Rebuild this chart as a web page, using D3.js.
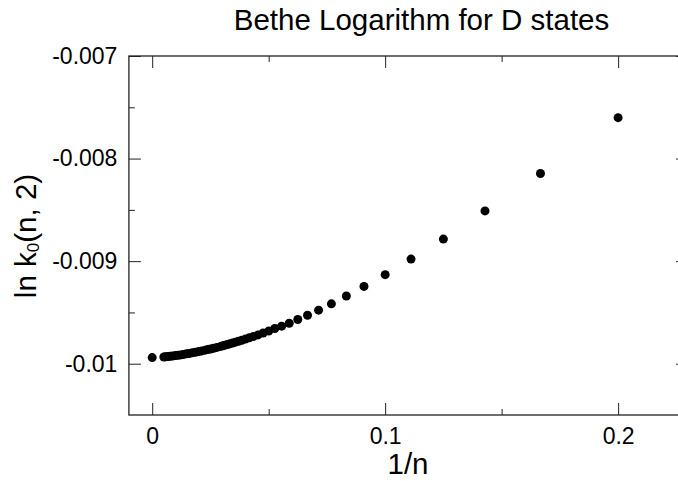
<!DOCTYPE html>
<html>
<head>
<meta charset="utf-8">
<script src="https://cdn.jsdelivr.net/npm/d3@7"></script>
<style>
  html, body { margin: 0; padding: 0; background: #fff; }
  svg { display: block; font-family: "Liberation Sans", Arial, sans-serif; }
  .axis path.domain { display: none; }
  .axis line { stroke: #222; stroke-width: 1; }
  .axis text { font-size: 23px; fill: #000; font-family: "Liberation Sans", Arial, sans-serif; }
</style>
</head>
<body>
<div class="chart"></div>
<script>
// principal quantum number n (Infinity = limit point at 1/n = 0)
var nStates = [5, 6, 7, 8, 9, 10, 11, 12, 13, 14, 15, 16, 17, 18, 19, 20,
  21, 22, 23, 24, 25, 26, 27, 28, 29, 30, 31, 32, 33, 34, 36, 38, 40, 42, 44,
  47, 50, 54, 58, 63, 68, 75, 82, 90, 100, 115, 130, 150, 175, 200, Infinity];

// ln k0(n, 2)
var lnK0 = [-0.007601, -0.008146, -0.008510, -0.008785, -0.008980, -0.009132,
  -0.009246, -0.009340, -0.009416, -0.009478, -0.009527, -0.009569, -0.009606,
  -0.009634, -0.009657, -0.009682, -0.009701, -0.009719, -0.009734, -0.009748,
  -0.009760, -0.009771, -0.009781, -0.009790, -0.009799, -0.009806, -0.009813,
  -0.009819, -0.009825, -0.009831, -0.009841, -0.009849, -0.009856, -0.009862,
  -0.009868, -0.009875, -0.009881, -0.009888, -0.009894, -0.009900, -0.009904,
  -0.009910, -0.009914, -0.009918, -0.009921, -0.009925, -0.009928, -0.009930,
  -0.009932, -0.009934, -0.009940];

// tick values / labels
var xMajorTicks = [0, 0.1, 0.2];
var xMinorTicks = [0.05, 0.15];
var xTickLabels = ['0', '0.1', '0.2'];
var yMajorTicks = [-0.01, -0.009, -0.008, -0.007];
var yMinorTicks = [-0.0095, -0.0085, -0.0075];
var yTickLabels = ['-0.01', '-0.009', '-0.008', '-0.007'];

var width = 678,
  height = 481;

var svg = d3.select('.chart').append('svg')
  .attr('width', width)
  .attr('height', height);

// 比例尺
var xScale = d3.scaleLinear()
  .domain([-0.01, 0.23])
  .range([128.9, 688]);
var yScale = d3.scaleLinear()
  .domain([-0.0105, -0.007])
  .range([415, 56]);

var plotLeft = xScale.range()[0], plotRight = xScale.range()[1];
var plotTop = yScale.range()[1], plotBottom = yScale.range()[0];

// 坐标轴 (ticks inside on all four sides)
function xLab(d) { return xTickLabels[xMajorTicks.indexOf(d)]; }
function yLab(d) { return yTickLabels[yMajorTicks.indexOf(d)]; }

svg.append('g').attr('class', 'axis')
  .attr('transform', 'translate(0,' + plotBottom + ')')
  .call(d3.axisBottom(xScale).tickValues(xMajorTicks).tickSize(-12).tickPadding(12.7).tickFormat(xLab));
svg.append('g').attr('class', 'axis')
  .attr('transform', 'translate(0,' + plotBottom + ')')
  .call(d3.axisBottom(xScale).tickValues(xMinorTicks).tickSize(-6).tickFormat(''));
svg.append('g').attr('class', 'axis')
  .attr('transform', 'translate(0,' + plotTop + ')')
  .call(d3.axisTop(xScale).tickValues(xMajorTicks).tickSize(-12).tickFormat(''));
svg.append('g').attr('class', 'axis')
  .attr('transform', 'translate(0,' + plotTop + ')')
  .call(d3.axisTop(xScale).tickValues(xMinorTicks).tickSize(-6).tickFormat(''));

svg.append('g').attr('class', 'axis')
  .attr('transform', 'translate(' + plotLeft + ',0)')
  .call(d3.axisLeft(yScale).tickValues(yMajorTicks).tickSize(-12).tickPadding(11.5).tickFormat(yLab));
svg.append('g').attr('class', 'axis')
  .attr('transform', 'translate(' + plotLeft + ',0)')
  .call(d3.axisLeft(yScale).tickValues(yMinorTicks).tickSize(-6).tickFormat(''));
svg.append('g').attr('class', 'axis')
  .attr('transform', 'translate(' + plotRight + ',0)')
  .call(d3.axisRight(yScale).tickValues(yMajorTicks).tickSize(-12).tickFormat(''));
svg.append('g').attr('class', 'axis')
  .attr('transform', 'translate(' + plotRight + ',0)')
  .call(d3.axisRight(yScale).tickValues(yMinorTicks).tickSize(-6).tickFormat(''));

// frame
svg.append('rect')
  .attr('x', plotLeft)
  .attr('y', plotTop)
  .attr('width', plotRight - plotLeft)
  .attr('height', plotBottom - plotTop)
  .attr('fill', 'none')
  .attr('stroke', '#222')
  .attr('stroke-width', 1.3);

// 散点
var points = nStates.map(function (n, i) {
  return { x: 1 / n, y: lnK0[i] };
});

svg.append('g')
  .selectAll('circle')
  .data(points)
  .enter()
  .append('circle')
  .attr('cx', function (d) { return xScale(d.x); })
  .attr('cy', function (d) { return yScale(d.y); })
  .attr('r', 4.5)
  .attr('fill', '#000');

// 标题
svg.append('text')
  .attr('x', 421.5)
  .attr('y', 30)
  .attr('text-anchor', 'middle')
  .attr('font-size', 29.5)
  .text('Bethe Logarithm for D states');

svg.append('text')
  .attr('x', 408)
  .attr('y', 474)
  .attr('text-anchor', 'middle')
  .attr('font-size', 29.5)
  .text('1/n');

var yTitle = svg.append('text')
  .attr('transform', 'translate(36,236) rotate(-90)')
  .attr('text-anchor', 'middle')
  .attr('font-size', 29.5);
yTitle.append('tspan').text('ln k');
yTitle.append('tspan').attr('font-size', 17).attr('dy', 3).text('0');
yTitle.append('tspan').attr('dy', -3).text('(n, 2)');
</script>
</body>
</html>
